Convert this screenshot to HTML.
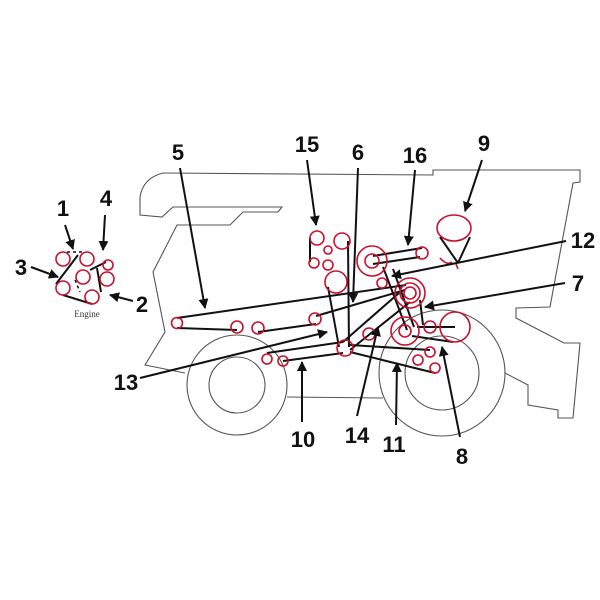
<!DOCTYPE html>
<html><head><meta charset="utf-8"><style>
html,body{margin:0;padding:0;background:#fff;}
svg{display:block}
.l{font-family:"Liberation Sans",sans-serif;font-weight:bold;font-size:22px;fill:#111;}
</style></head><body>
<svg width="600" height="600" viewBox="0 0 600 600" xmlns="http://www.w3.org/2000/svg">
<defs>
<marker id="a" viewBox="0 0 10 10" refX="9" refY="5" markerWidth="5" markerHeight="5" orient="auto"><path d="M0,0 L10,5 L0,10 z" fill="#111"/></marker>
</defs>
<!-- body outline -->
<g fill="none" stroke="#555" stroke-width="1.1">
<path d="M163,173 Q143,178 140,197 L140,215 L162,217 L173,207 L282,207 L278,212 L243,212 L230,225 L177,225 L153,272 L165,332 L145,365 L185,373"/>
<path d="M163,173 L433,175 L433,170 L580,170 L580,182 L573,183 L550,307 L516,308 L516,318 L564,343 L580,343 L573,418 L558,418 L558,410 L528,405 L528,385 L505,373"/>
<path d="M287,397 L383,398"/>
<circle cx="237" cy="385" r="50"/>
<circle cx="237" cy="385" r="28"/>
<circle cx="442" cy="373" r="63"/>
<circle cx="442" cy="373" r="37"/>
</g>
<!-- belts -->
<g stroke="#111" stroke-width="2" fill="none">
<line x1="177" y1="318" x2="406" y2="285"/>
<line x1="177" y1="328" x2="237" y2="330"/>
<line x1="258" y1="332" x2="316" y2="324"/>
<line x1="316" y1="316" x2="405" y2="290"/>
<line x1="310" y1="238" x2="310" y2="262"/>
<line x1="348" y1="241" x2="349" y2="347"/>
<line x1="328" y1="287" x2="339" y2="347"/>
<line x1="343" y1="342" x2="399" y2="293"/>
<line x1="350" y1="350" x2="410" y2="302"/>
<line x1="267" y1="353" x2="343" y2="342"/>
<line x1="283" y1="361" x2="343" y2="353"/>
<line x1="350" y1="352" x2="435" y2="373"/>
<line x1="350" y1="345" x2="430" y2="350"/>
<line x1="383" y1="267" x2="407" y2="330"/>
<line x1="393" y1="269" x2="414" y2="327"/>
<line x1="420" y1="300" x2="423" y2="325"/>
<line x1="412" y1="336" x2="453" y2="342"/>
<line x1="373" y1="256" x2="422" y2="248"/>
<line x1="373" y1="264" x2="420" y2="257"/>
<line x1="417" y1="327" x2="455" y2="327"/>
<line x1="440" y1="237" x2="458" y2="263"/>
<line x1="470" y1="237" x2="458" y2="263"/>
<!-- engine belts -->
<line x1="56" y1="284" x2="78" y2="255"/>
<line x1="63" y1="295" x2="92" y2="304"/>
<line x1="90" y1="270" x2="106" y2="262"/>
<line x1="97" y1="268" x2="101" y2="292"/>
</g>
<g stroke="#111" stroke-width="1.5" fill="none" stroke-dasharray="3,3">
<line x1="67" y1="252" x2="85" y2="252"/>
<line x1="75" y1="280" x2="80" y2="292"/>
</g>
<!-- pulleys -->
<g fill="none" stroke="#c8102e" stroke-width="1.6">
<circle cx="177" cy="323" r="5.5"/>
<circle cx="237" cy="327" r="6"/>
<circle cx="258" cy="328" r="6"/>
<circle cx="315" cy="319" r="6"/>
<circle cx="317" cy="238" r="7"/>
<circle cx="342" cy="241" r="8"/>
<circle cx="328" cy="250" r="4"/>
<circle cx="314" cy="263" r="5"/>
<circle cx="328" cy="265" r="5"/>
<circle cx="336" cy="282" r="11"/>
<circle cx="372" cy="261" r="7"/>
<circle cx="372" cy="261" r="15"/>
<circle cx="422" cy="253" r="6"/>
<circle cx="382" cy="283" r="5"/>
<circle cx="410" cy="293" r="6"/>
<circle cx="410" cy="293" r="10"/>
<circle cx="410" cy="293" r="15"/>
<circle cx="369" cy="334" r="6"/>
<circle cx="405" cy="331" r="6"/>
<circle cx="405" cy="331" r="14"/>
<circle cx="430" cy="327" r="6"/>
<circle cx="455" cy="327" r="15"/>
<circle cx="345" cy="348" r="8"/>
<circle cx="430" cy="352" r="5"/>
<circle cx="418" cy="360" r="5"/>
<circle cx="435" cy="368" r="5"/>
<circle cx="267" cy="359" r="5"/>
<circle cx="283" cy="361" r="5"/>
<ellipse cx="454" cy="228" rx="17" ry="13"/>
<path d="M440,258 Q447,266 452,262 M456,264 l2,5"/>
<!-- engine -->
<circle cx="63" cy="259" r="7"/>
<circle cx="87" cy="259" r="7"/>
<circle cx="108" cy="265" r="5"/>
<circle cx="83" cy="277" r="7"/>
<circle cx="107" cy="279" r="7"/>
<circle cx="63" cy="288" r="7"/>
<circle cx="92" cy="297" r="7"/>
</g>
<!-- arrows -->
<g stroke="#111" stroke-width="2" marker-end="url(#a)">
<line x1="180" y1="168" x2="205" y2="308"/>
<line x1="307" y1="160" x2="316" y2="225"/>
<line x1="358" y1="168" x2="353" y2="302"/>
<line x1="415" y1="170" x2="408" y2="245"/>
<line x1="482" y1="160" x2="465" y2="211"/>
<line x1="566" y1="241" x2="392" y2="276"/>
<line x1="565" y1="283" x2="425" y2="307"/>
<line x1="140" y1="378" x2="327" y2="332"/>
<line x1="302" y1="422" x2="302" y2="362"/>
<line x1="357" y1="416" x2="378" y2="327"/>
<line x1="396" y1="425" x2="397" y2="363"/>
<line x1="460" y1="437" x2="442" y2="347"/>
<line x1="65" y1="225" x2="73" y2="249"/>
<line x1="105" y1="215" x2="103" y2="250"/>
<line x1="31" y1="267" x2="58" y2="277"/>
<line x1="133" y1="301" x2="110" y2="295"/>
</g>
<!-- labels -->
<g class="l" text-anchor="middle">
<text x="178" y="160">5</text>
<text x="307" y="152">15</text>
<text x="358" y="160">6</text>
<text x="415" y="163">16</text>
<text x="484" y="151">9</text>
<text x="583" y="248">12</text>
<text x="578" y="291">7</text>
<text x="126" y="390">13</text>
<text x="303" y="447">10</text>
<text x="357" y="443">14</text>
<text x="394" y="452">11</text>
<text x="462" y="464">8</text>
<text x="63" y="216">1</text>
<text x="106" y="206">4</text>
<text x="21" y="275">3</text>
<text x="142" y="312">2</text>
</g>
<text x="87" y="317" text-anchor="middle" font-family="Liberation Serif,serif" font-size="9" fill="#333">Engine</text>
</svg>
</body></html>
